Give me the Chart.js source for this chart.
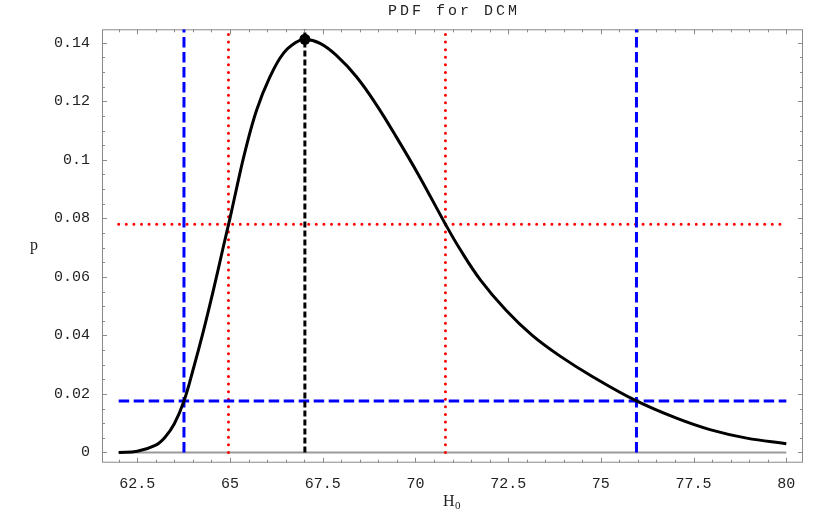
<!DOCTYPE html>
<html>
<head>
<meta charset="utf-8">
<script src="https://cdn.jsdelivr.net/npm/chart.js@4.4.1/dist/chart.umd.min.js"></script>
<style>
  html, body { margin: 0; padding: 0; background: #fff; }
  #wrap { width: 830px; height: 513px; }
</style>
</head>
<body>
<div id="wrap"><canvas id="pdfChart"></canvas></div>
<script>
// curve
const hValues = [62, 62.5, 63, 63.25, 63.5, 63.76, 64, 64.28, 64.55, 64.82, 65, 65.2, 65.4, 65.72, 66.08,
                 66.44, 66.8, 67.02, 67.43, 67.87, 68.41, 68.95, 69.5, 70.1, 70.81, 71.2, 71.75, 72.45,
                 73.15, 73.89, 74.79, 75.96, 77.04, 77.94, 78.93, 80];
const pValues = [0, 0.0004, 0.0025, 0.0052, 0.0098, 0.0176, 0.0280, 0.0413, 0.0553, 0.0702, 0.080, 0.0915,
                 0.1025, 0.1170, 0.1284, 0.1364, 0.1403, 0.1412, 0.1398, 0.1357, 0.1284, 0.1188, 0.1075,
                 0.0945, 0.078, 0.0695, 0.0590, 0.0485, 0.0400, 0.0330, 0.0258, 0.0176, 0.0117, 0.0078,
                 0.0049, 0.0030];

// marker lines
const peakH = 67.02, peakP = 0.1412;
const innerH = [64.96, 70.81], innerP = 0.078;   // red dotted
const outerH = [63.76, 75.96], outerP = 0.0176;  // blue dashed
const hRange = [62, 80];

const xTickValues = [62.5, 65, 67.5, 70, 72.5, 75, 77.5, 80];
const xTickLabels = ['62.5', '65', '67.5', '70', '72.5', '75', '77.5', '80'];
const yTickValues = [0, 0.02, 0.04, 0.06, 0.08, 0.1, 0.12, 0.14];
const yTickLabels = ['0', '0.02', '0.04', '0.06', '0.08', '0.1', '0.12', '0.14'];

const xMin = 61.55, xMax = 80.45, yMin = -0.0035, yMax = 0.1446;
const monoFont = '"Liberation Mono", "Courier New", monospace';
const serifFont = '"Liberation Serif", "Times New Roman", serif';

const curve = hValues.map((h, i) => ({ x: h, y: pValues[i] }));
const vline = h => [{ x: h, y: 0 }, { x: h, y: yMax }];
const hline = p => [{ x: hRange[0], y: p }, { x: hRange[1], y: p }];

const blue = { borderColor: '#0000ff', borderWidth: 3, borderDash: [10.5, 4.5] };
const red = { borderColor: '#ff0000', borderWidth: 3, borderDash: [0, 7.6], borderCapStyle: 'round' };

function refSet(data, style) {
    return Object.assign({ data: data, showLine: true, pointRadius: 0, order: 3 }, style);
}

const datasets = [
    { data: [{ x: peakH, y: peakP }], pointStyle: 'circle', pointRadius: 5.5,
      pointBackgroundColor: '#000', pointBorderColor: '#000', pointBorderWidth: 0, order: 0 },
    { data: curve, showLine: true, pointRadius: 0, borderColor: '#000', borderWidth: 3,
      tension: 0.4, order: 1 },
    refSet(vline(peakH), { borderColor: '#000', borderWidth: 3, borderDash: [6, 3] }),
    refSet(vline(outerH[0]), blue),
    refSet(vline(outerH[1]), blue),
    refSet(hline(outerP), blue),
    refSet(vline(innerH[0]), red),
    refSet(vline(innerH[1]), red),
    refSet(hline(innerP), red),
    { data: hline(0), showLine: true, pointRadius: 0, borderColor: '#9a9a9a', borderWidth: 2, order: 5 }
];

// frame with inward ticks, title and axis labels
const framePlugin = {
    id: 'frame',
    beforeDatasetsDraw(chart) {
        const { ctx, chartArea: a, scales: { x, y } } = chart;
        ctx.save();
        ctx.strokeStyle = '#8a8a8a';
        ctx.lineWidth = 1;
        ctx.strokeRect(a.left + 0.5, a.top + 0.5, a.width - 1, a.height - 1);
        ctx.beginPath();
        for (let v = 62; v <= 80.001; v += 0.5) {
            const px = Math.round(x.getPixelForValue(v)) + 0.5;
            const len = xTickValues.some(t => Math.abs(t - v) < 1e-6) ? 5 : 3;
            ctx.moveTo(px, a.bottom); ctx.lineTo(px, a.bottom - len);
            ctx.moveTo(px, a.top); ctx.lineTo(px, a.top + len);
        }
        for (let v = 0; v <= 0.1401; v += 0.005) {
            const py = Math.round(y.getPixelForValue(v)) + 0.5;
            const len = yTickValues.some(t => Math.abs(t - v) < 1e-6) ? 5 : 3;
            ctx.moveTo(a.left, py); ctx.lineTo(a.left + len, py);
            ctx.moveTo(a.right, py); ctx.lineTo(a.right - len, py);
        }
        ctx.stroke();
        ctx.restore();
    },
    afterDraw(chart) {
        const { ctx, chartArea: a } = chart;
        ctx.save();
        ctx.fillStyle = '#222';
        ctx.textBaseline = 'middle';
        ctx.textAlign = 'center';
        ctx.font = '15px ' + monoFont;
        ctx.letterSpacing = '3px';
        ctx.fillText('PDF for DCM', (a.left + a.right) / 2 + 1.5, 11);
        ctx.letterSpacing = '0px';
        ctx.font = '16px ' + serifFont;
        ctx.fillText('p', 34, 246);
        ctx.textAlign = 'left';
        ctx.fillText('H', 443, 502);
        ctx.font = '11px ' + serifFont;
        ctx.fillText('0', 455, 506);
        ctx.restore();
    }
};

new Chart(document.getElementById('pdfChart'), {
    type: 'scatter',
    data: { datasets: datasets },
    options: {
        responsive: true,
        maintainAspectRatio: false,
        animation: false,
        layout: { padding: { left: 0, right: 27, top: 29.3, bottom: 0 } },
        plugins: { legend: { display: false }, title: { display: false }, tooltip: { enabled: false } },
        scales: {
            x: {
                type: 'linear', min: xMin, max: xMax,
                grid: { display: false, drawTicks: false }, border: { display: false },
                afterBuildTicks: s => { s.ticks = xTickValues.map(v => ({ value: v })); },
                afterFit: s => { s.height = 50.3; },
                ticks: {
                    padding: 12, maxRotation: 0, color: '#222',
                    font: { family: monoFont, size: 15 },
                    callback: (v, i) => xTickLabels[i]
                }
            },
            y: {
                type: 'linear', min: yMin, max: yMax,
                grid: { display: false, drawTicks: false }, border: { display: false },
                afterBuildTicks: s => { s.ticks = yTickValues.map(v => ({ value: v })); },
                afterFit: s => { s.width = 102; },
                ticks: {
                    padding: 12, color: '#222',
                    font: { family: monoFont, size: 15 },
                    callback: (v, i) => yTickLabels[i]
                }
            }
        }
    },
    plugins: [framePlugin]
});
</script>
</body>
</html>
